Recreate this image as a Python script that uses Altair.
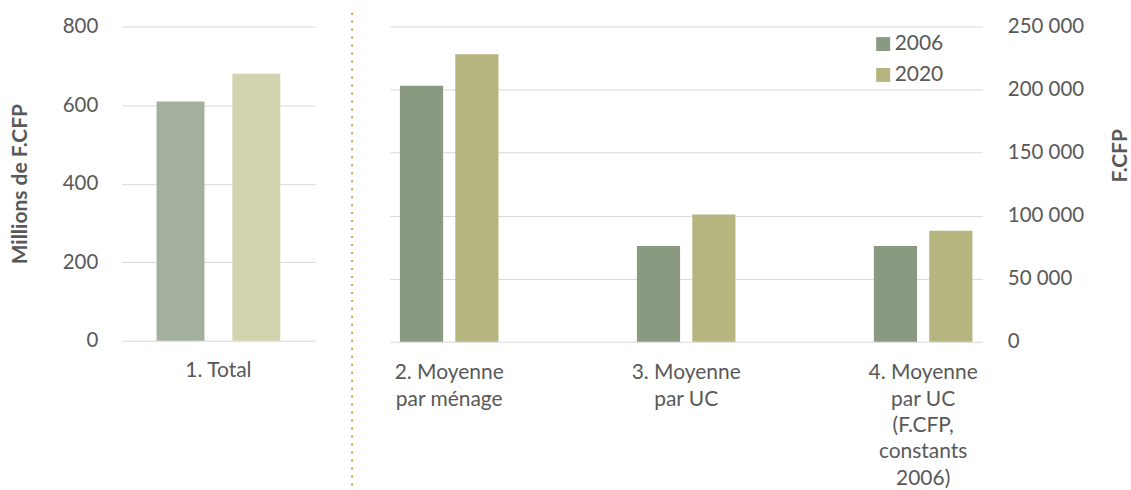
import altair as alt
import pandas as pd

# ---- data ----
years = ["2006", "2020"]
left_categories = ["1. Total"]
right_categories = [
    "2. Moyenne|par ménage",
    "3. Moyenne|par UC",
    "4. Moyenne|par UC|(F.CFP,|constants|2006)",
]
total_2006 = [609]          # millions de F.CFP
total_2020 = [680]
mean_2006 = [203000, 76000, 76000]   # F.CFP
mean_2020 = [228000, 101000, 88000]
left_ticks = [0, 200, 400, 600, 800]
right_ticks = [0, 50000, 100000, 150000, 200000, 250000]

# ---- styles ----
FONT = "Lato"
GREY = "#595959"
GRID = "#D9D9D9"
COL_2006 = "#8A9A80"
COL_2020 = "#B6B580"
COL_2006_TEXTURE = "#A3B09D"   # dotted-pattern look of the left panel
COL_2020_TEXTURE = "#D3D2AE"
SEP = "#C9A13B"

df_left = pd.DataFrame(
    [{"cat": c, "year": "2006", "value": v} for c, v in zip(left_categories, total_2006)]
    + [{"cat": c, "year": "2020", "value": v} for c, v in zip(left_categories, total_2020)]
)
df_right = pd.DataFrame(
    [{"cat": c, "year": "2006", "value": v} for c, v in zip(right_categories, mean_2006)]
    + [{"cat": c, "year": "2020", "value": v} for c, v in zip(right_categories, mean_2020)]
)

# ---- left panel ----
xl = alt.X(
    "cat:N",
    sort=left_categories,
    scale=alt.Scale(paddingInner=0, paddingOuter=0),
    axis=alt.Axis(title=None, labelAngle=0, ticks=False, domain=False, grid=False,
                  labelPadding=19, labelFontSize=21, labelColor=GREY, labelFont=FONT),
)
yl = alt.Y(
    "value:Q",
    scale=alt.Scale(domain=[0, 800], nice=False),
    axis=alt.Axis(values=left_ticks, title="Millions de F.CFP", titleFontSize=21,
                  titleFont=FONT, titleFontWeight="bold", titleColor=GREY, titlePadding=32,
                  labelFontSize=20.5, labelColor=GREY, labelFont=FONT, labelPadding=24,
                  ticks=False, domain=False, grid=True, gridColor=GRID, gridWidth=1),
)
xol = alt.XOffset("year:N", sort=years, scale=alt.Scale(paddingInner=0.368, paddingOuter=0.46))
fill_left = alt.Color(
    "year:N", sort=years,
    scale=alt.Scale(domain=years, range=[COL_2006_TEXTURE, COL_2020_TEXTURE]),
    legend=None,
)
left = (
    alt.Chart(df_left)
    .mark_bar()
    .encode(x=xl, y=yl, xOffset=xol, fill=fill_left)
    .properties(width=194, height=315)
)

# ---- right panel ----
xr = alt.X(
    "cat:N",
    sort=right_categories,
    scale=alt.Scale(paddingInner=0.5, paddingOuter=0),
    axis=alt.Axis(title=None, labelAngle=0, ticks=False, domain=False, grid=False,
                  labelExpr="split(datum.label, '|')", labelLineHeight=26.5,
                  labelPadding=20, labelFontSize=21, labelColor=GREY, labelFont=FONT),
)
yr = alt.Y(
    "value:Q",
    scale=alt.Scale(domain=[0, 250000], nice=False),
    axis=alt.Axis(orient="right", values=right_ticks,
                  labelExpr="replace(format(datum.value, ','), ',', ' ')",
                  labelAlign="left", labelPadding=25, labelFontSize=20.5, labelColor=GREY,
                  labelFont=FONT, title="F.CFP", titleFontSize=21, titleFont=FONT,
                  titleFontWeight="bold", titleColor=GREY, titleAngle=270,
                  titleBaseline="top", titlePadding=26, titleY=129,
                  ticks=False, domain=False, grid=True, gridColor=GRID, gridWidth=1),
)
xor = alt.XOffset("year:N", sort=years, scale=alt.Scale(paddingInner=0.22, paddingOuter=0.18))
color = alt.Color(
    "year:N",
    sort=years,
    scale=alt.Scale(domain=years, range=[COL_2006, COL_2020]),
    legend=alt.Legend(orient="none", legendX=484, legendY=7, title=None,
                      symbolType="square", symbolSize=196, symbolStrokeWidth=0,
                      labelFontSize=21, labelColor=GREY, labelFont=FONT,
                      rowPadding=9, labelOffset=1, padding=0),
)
bars_right = alt.Chart(df_right).mark_bar().encode(x=xr, y=yr, xOffset=xor, color=color)
separator = alt.Chart(pd.DataFrame({"s": [0]})).mark_rule(
    color=SEP, strokeWidth=2, strokeDash=[2, 6]
).encode(x=alt.value(-38), y=alt.value(-14), y2=alt.value(480))
right = alt.layer(bars_right, separator).properties(width=594, height=316)

chart = (
    alt.hconcat(left, right, spacing=75, bounds="flush")
    .resolve_scale(xOffset="independent", color="independent", fill="independent")
    .properties(padding={"left": 9, "top": 11, "right": 0, "bottom": 0})
    .configure(font=FONT)
    .configure_view(stroke="transparent", strokeWidth=0)
)

chart.save("out.html", embed_options={"renderer": "svg", "actions": False})
